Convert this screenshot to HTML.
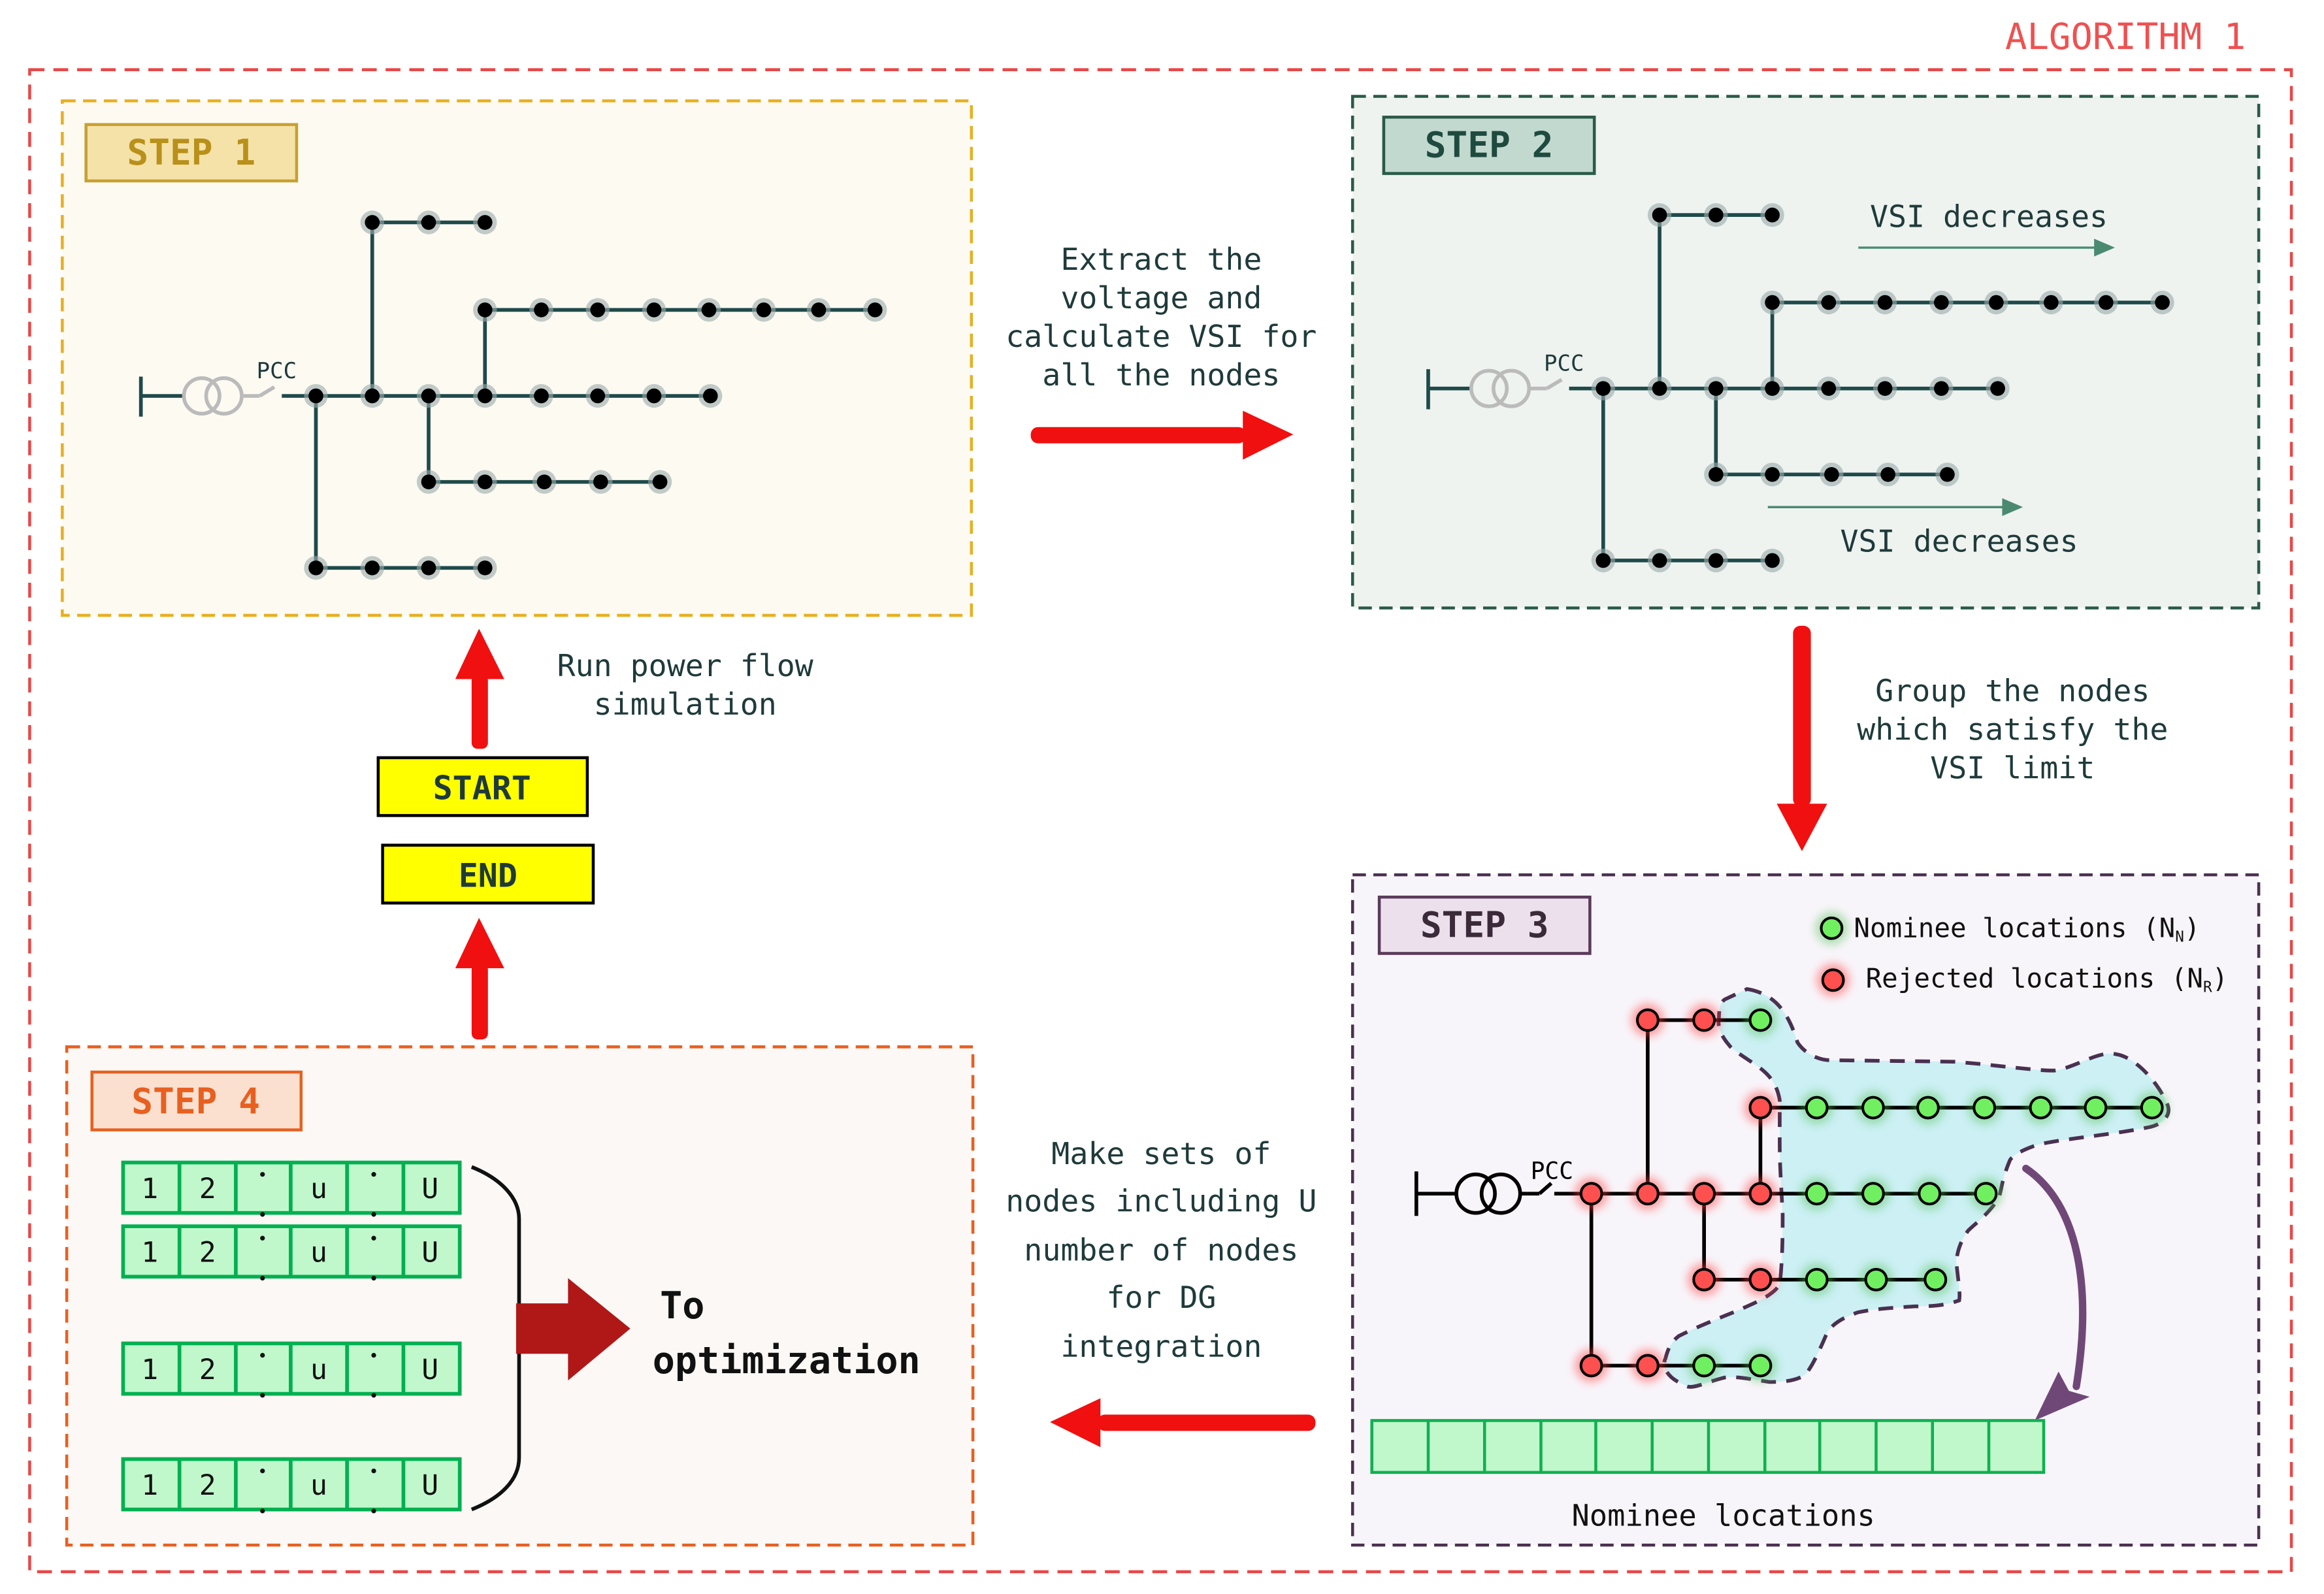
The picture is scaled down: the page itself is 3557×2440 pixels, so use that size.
<!DOCTYPE html>
<html><head><meta charset="utf-8"><style>html,body{margin:0;padding:0;background:#fff}svg{display:block}</style></head><body>
<svg xmlns="http://www.w3.org/2000/svg" width="3557" height="2440" viewBox="0 0 1567 1075" preserveAspectRatio="none" font-family="'DejaVu Sans Mono','Liberation Mono',monospace">
<defs>
<filter id="gl" x="-100%" y="-100%" width="300%" height="300%"><feGaussianBlur stdDeviation="3"/></filter>
<g id="dn"><circle r="8" fill="#9aa" opacity="0.6"/><circle r="5" fill="#000"/></g>
<g id="rn"><circle r="11" fill="#ff4040" opacity="0.5" filter="url(#gl)"/><circle r="7" fill="#ff5050" stroke="#000" stroke-width="1.8"/></g>
<g id="gn"><circle r="11" fill="#50c050" opacity="0.45" filter="url(#gl)"/><circle r="7" fill="#70f060" stroke="#000" stroke-width="1.8"/></g>
</defs>
<rect width="1567" height="1075" fill="#fff"/>
<text x="1352" y="33" font-size="24.5" fill="#f05050">ALGORITHM 1</text>
<rect x="20" y="47" width="1525" height="1013" fill="none" stroke="#e84848" stroke-width="2" stroke-dasharray="10,6"/>

<!-- STEP 1 -->
<rect x="42" y="68" width="613" height="347" fill="#fdfaf2" stroke="#e8b020" stroke-width="2" stroke-dasharray="9,5"/>
<rect x="58" y="84" width="142" height="38" fill="#f5e2a8" stroke="#c8a030" stroke-width="2"/>
<text x="129" y="111" font-size="24" font-weight="bold" fill="#b8901a" text-anchor="middle">STEP 1</text>
<g id="net1">
<g stroke="#1f4a4a" stroke-width="2.5" fill="none">
<line x1="95" y1="254" x2="95" y2="281"/><line x1="95" y1="267" x2="123" y2="267"/>
<line x1="162" y1="267" x2="175" y2="267" stroke="#bbb"/><line x1="175" y1="267" x2="185" y2="261" stroke="#bbb"/>
<line x1="190" y1="267" x2="479" y2="267"/>
<line x1="251" y1="267" x2="251" y2="150"/><line x1="251" y1="150" x2="327" y2="150"/>
<line x1="327" y1="267" x2="327" y2="209"/><line x1="327" y1="209" x2="590" y2="209"/>
<line x1="289" y1="267" x2="289" y2="325"/><line x1="289" y1="325" x2="445" y2="325"/>
<line x1="213" y1="267" x2="213" y2="383"/><line x1="213" y1="383" x2="327" y2="383"/>
</g>
<circle cx="136" cy="267" r="12" fill="none" stroke="#bbb" stroke-width="2.5"/><circle cx="151" cy="267" r="12" fill="none" stroke="#bbb" stroke-width="2.5"/>
<text x="173" y="255" font-size="15" fill="#1f3a3a">PCC</text>
<use href="#dn" x="213" y="267"/><use href="#dn" x="251" y="267"/><use href="#dn" x="289" y="267"/><use href="#dn" x="327" y="267"/><use href="#dn" x="365" y="267"/><use href="#dn" x="403" y="267"/><use href="#dn" x="441" y="267"/><use href="#dn" x="479" y="267"/>
<use href="#dn" x="251" y="150"/><use href="#dn" x="289" y="150"/><use href="#dn" x="327" y="150"/>
<use href="#dn" x="327" y="209"/><use href="#dn" x="365" y="209"/><use href="#dn" x="403" y="209"/><use href="#dn" x="441" y="209"/><use href="#dn" x="478" y="209"/><use href="#dn" x="515" y="209"/><use href="#dn" x="552" y="209"/><use href="#dn" x="590" y="209"/>
<use href="#dn" x="289" y="325"/><use href="#dn" x="327" y="325"/><use href="#dn" x="367" y="325"/><use href="#dn" x="405" y="325"/><use href="#dn" x="445" y="325"/>
<use href="#dn" x="213" y="383"/><use href="#dn" x="251" y="383"/><use href="#dn" x="289" y="383"/><use href="#dn" x="327" y="383"/>
</g>

<!-- STEP 2 -->
<rect x="912" y="65" width="611" height="345" fill="#eef3f0" stroke="#2a5a48" stroke-width="2" stroke-dasharray="9,5"/>
<rect x="933" y="79" width="142" height="38" fill="#c2d9cf" stroke="#2a5a48" stroke-width="2"/>
<text x="1004" y="106" font-size="24" font-weight="bold" fill="#1f4a40" text-anchor="middle">STEP 2</text>
<use href="#net1" x="868" y="-5"/>
<text x="1341" y="153" font-size="20.5" fill="#1f3a3a" text-anchor="middle">VSI decreases</text>
<line x1="1253" y1="167" x2="1415" y2="167" stroke="#4a8a70" stroke-width="1.5"/><polygon points="1426,167 1412,161 1412,173" fill="#4a8a70"/>
<line x1="1192" y1="342" x2="1352" y2="342" stroke="#4a8a70" stroke-width="1.5"/><polygon points="1364,342 1350,336 1350,348" fill="#4a8a70"/>
<text x="1321" y="372" font-size="20.5" fill="#1f3a3a" text-anchor="middle">VSI decreases</text>

<!-- middle texts and arrows -->
<g font-size="20.5" fill="#1f3a3a" text-anchor="middle">
<text x="783" y="182">Extract the</text><text x="783" y="208">voltage and</text><text x="783" y="234">calculate VSI for</text><text x="783" y="260">all the nodes</text>
<text x="1357" y="473">Group the nodes</text><text x="1357" y="499">which satisfy the</text><text x="1357" y="525">VSI limit</text>
<text x="462" y="456">Run power flow</text><text x="462" y="482">simulation</text>
<text x="783" y="785">Make sets of</text><text x="783" y="817">nodes including U</text><text x="783" y="850">number of nodes</text><text x="783" y="882">for DG</text><text x="783" y="915">integration</text>
</g>
<g fill="#f01010">
<rect x="695" y="288" width="145" height="11" rx="5"/><polygon points="838,277 872,293 838,310"/>
<rect x="1209" y="422" width="12" height="122" rx="5"/><polygon points="1198,542 1232,542 1215,574"/>
<rect x="740" y="954" width="147" height="11" rx="5"/><polygon points="742,943 708,959 742,976"/>
<rect x="318" y="455" width="11" height="50" rx="4"/><polygon points="307,458 340,458 323,424"/>
<rect x="318" y="650" width="11" height="51" rx="4"/><polygon points="307,653 340,653 323,619"/>
</g>
<rect x="255" y="511" width="141" height="39" fill="#ffff00" stroke="#000" stroke-width="2"/>
<text x="325" y="539" font-size="22" font-weight="bold" fill="#1f3a3a" text-anchor="middle">START</text>
<rect x="258" y="570" width="142" height="39" fill="#ffff00" stroke="#000" stroke-width="2"/>
<text x="329" y="598" font-size="22" font-weight="bold" fill="#1f3a3a" text-anchor="middle">END</text>

<!-- STEP 3 -->
<rect x="912" y="590" width="611" height="452" fill="#f8f5fa" stroke="#4a3050" stroke-width="2" stroke-dasharray="9,5"/>
<rect x="930" y="605" width="142" height="38" fill="#ece0ec" stroke="#5a3a5a" stroke-width="2"/>
<text x="1001" y="632" font-size="24" font-weight="bold" fill="#3a2a3a" text-anchor="middle">STEP 3</text>
<use href="#gn" x="1235" y="626"/><text x="1250" y="632" font-size="18" fill="#111">Nominee locations (N<tspan font-size="10" dy="3">N</tspan><tspan dy="-3">)</tspan></text>
<use href="#rn" x="1236" y="661"/><text x="1258" y="666" font-size="18" fill="#111">Rejected locations (N<tspan font-size="10" dy="3">R</tspan><tspan dy="-3">)</tspan></text>
<path d="M1178,667 C1195,670 1205,680 1212,703 C1218,712 1228,715 1234,715 L1317,716 C1345,718 1370,722 1385,722 C1400,720 1415,708 1427,711 C1440,713 1455,730 1461,744 C1465,752 1458,758 1450,760 C1420,766 1390,768 1374,772 C1362,776 1356,780 1355,783 C1350,795 1350,800 1348,807 C1342,818 1332,825 1327,830 C1320,840 1320,846 1319,850 C1320,862 1322,872 1321,877 C1310,881 1300,881 1291,881 C1275,882 1262,883 1253,885 C1238,890 1233,896 1231,901 C1225,915 1220,925 1216,928 C1208,932 1200,932 1193,932 C1180,930 1170,928 1163,929 C1150,932 1140,938 1136,934 C1125,930 1120,922 1123,916 C1125,908 1128,904 1132,901 C1150,892 1165,887 1178,881 C1192,875 1198,870 1200,866 C1202,850 1202,830 1202,819 C1201,800 1200,785 1200,772 C1200,760 1200,750 1200,742 C1198,730 1192,724 1185,719 C1175,712 1168,708 1166,705 C1160,698 1158,692 1159,687 C1159,680 1160,676 1163,674 Z" fill="#ccf0f4" stroke="#4a3050" stroke-width="2.5" stroke-dasharray="10,7"/>
<g stroke="#000" stroke-width="2.5">
<line x1="955" y1="790" x2="955" y2="820"/><line x1="955" y1="805" x2="983" y2="805"/>
<line x1="1025" y1="805" x2="1038" y2="805"/><line x1="1038" y1="805" x2="1046" y2="798"/>
<line x1="1048" y1="805" x2="1339" y2="805"/>
<line x1="1111" y1="805" x2="1111" y2="688"/><line x1="1111" y1="688" x2="1187" y2="688"/>
<line x1="1187" y1="805" x2="1187" y2="747"/><line x1="1187" y1="747" x2="1451" y2="747"/>
<line x1="1149" y1="805" x2="1149" y2="863"/><line x1="1149" y1="863" x2="1305" y2="863"/>
<line x1="1073" y1="805" x2="1073" y2="921"/><line x1="1073" y1="921" x2="1187" y2="921"/>
</g>
<circle cx="995" cy="805" r="13" fill="none" stroke="#000" stroke-width="2.5"/><circle cx="1012" cy="805" r="13" fill="none" stroke="#000" stroke-width="2.5"/>
<text x="1032" y="795" font-size="16" fill="#000">PCC</text>
<use href="#rn" x="1073" y="805"/><use href="#rn" x="1111" y="805"/><use href="#rn" x="1149" y="805"/><use href="#rn" x="1187" y="805"/>
<use href="#gn" x="1225" y="805"/><use href="#gn" x="1263" y="805"/><use href="#gn" x="1301" y="805"/><use href="#gn" x="1339" y="805"/>
<use href="#rn" x="1111" y="688"/><use href="#rn" x="1149" y="688"/><use href="#gn" x="1187" y="688"/>
<use href="#rn" x="1187" y="747"/><use href="#gn" x="1225" y="747"/><use href="#gn" x="1263" y="747"/><use href="#gn" x="1300" y="747"/><use href="#gn" x="1338" y="747"/><use href="#gn" x="1376" y="747"/><use href="#gn" x="1413" y="747"/><use href="#gn" x="1451" y="747"/>
<use href="#rn" x="1149" y="863"/><use href="#rn" x="1187" y="863"/><use href="#gn" x="1225" y="863"/><use href="#gn" x="1265" y="863"/><use href="#gn" x="1305" y="863"/>
<use href="#rn" x="1073" y="921"/><use href="#rn" x="1111" y="921"/><use href="#gn" x="1149" y="921"/><use href="#gn" x="1187" y="921"/>
<path d="M1366,788 C1398,810 1412,860 1400,935" fill="none" stroke="#704878" stroke-width="5" stroke-linecap="round"/>
<polygon points="1372,958 1388,925 1395,938 1409,942" fill="#704878"/>
<rect x="925" y="958" width="453" height="35" fill="#c0f8cc" stroke="#10b050" stroke-width="2"/>
<g stroke="#10b050" stroke-width="2">
<line x1="963" y1="958" x2="963" y2="993"/><line x1="1001" y1="958" x2="1001" y2="993"/><line x1="1039" y1="958" x2="1039" y2="993"/><line x1="1076" y1="958" x2="1076" y2="993"/><line x1="1114" y1="958" x2="1114" y2="993"/><line x1="1152" y1="958" x2="1152" y2="993"/><line x1="1190" y1="958" x2="1190" y2="993"/><line x1="1227" y1="958" x2="1227" y2="993"/><line x1="1265" y1="958" x2="1265" y2="993"/><line x1="1303" y1="958" x2="1303" y2="993"/><line x1="1341" y1="958" x2="1341" y2="993"/>
</g>
<text x="1162" y="1029" font-size="20" fill="#111" text-anchor="middle">Nominee locations</text>

<!-- STEP 4 -->
<rect x="45" y="706" width="611" height="336" fill="#fcf8f5" stroke="#e86020" stroke-width="2" stroke-dasharray="9,5"/>
<rect x="62" y="723" width="141" height="39" fill="#fbe0d0" stroke="#e86020" stroke-width="2"/>
<text x="132" y="751" font-size="24" font-weight="bold" fill="#e86020" text-anchor="middle">STEP 4</text>
<g id="row">
<rect x="83" y="784" width="227" height="34" fill="#c0f8cc" stroke="#00b050" stroke-width="2.5"/>
<g stroke="#00b050" stroke-width="2.5"><line x1="121" y1="784" x2="121" y2="818"/><line x1="159" y1="784" x2="159" y2="818"/><line x1="196" y1="784" x2="196" y2="818"/><line x1="234" y1="784" x2="234" y2="818"/><line x1="272" y1="784" x2="272" y2="818"/></g>
<g font-size="19" fill="#111" text-anchor="middle"><text x="101" y="808">1</text><text x="140" y="808">2</text><text x="215" y="808">u</text><text x="290" y="808">U</text></g>
<g fill="#111"><circle cx="177" cy="792" r="1.6"/><circle cx="177" cy="819" r="1.6"/><circle cx="252" cy="792" r="1.6"/><circle cx="252" cy="819" r="1.6"/></g>
</g>
<use href="#row" y="43"/><use href="#row" y="122"/><use href="#row" y="200"/>
<path d="M318,787 C338,795 350,808 350,822 L350,983 C350,998 338,1010 318,1018" fill="none" stroke="#111" stroke-width="2.5"/>
<rect x="348" y="879" width="36" height="34" fill="#b01818"/><polygon points="383,862 425,896 383,931" fill="#b01818"/>
<text x="445" y="889" font-size="25" font-weight="bold" fill="#111">To</text>
<text x="440" y="926" font-size="25" font-weight="bold" fill="#111">optimization</text>
</svg>
</body></html>
